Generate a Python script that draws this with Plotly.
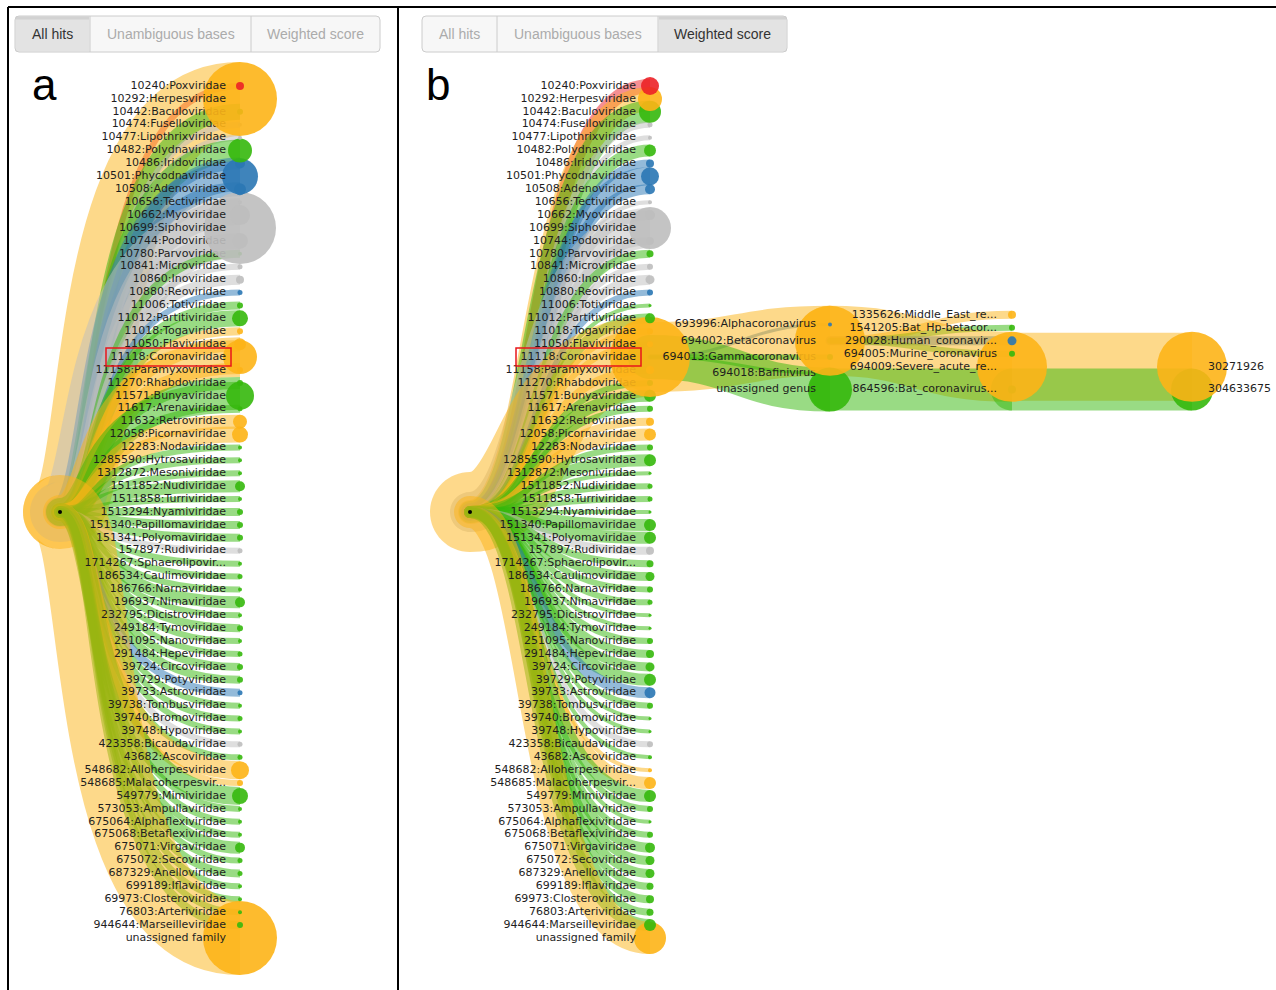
import numpy as np
import plotly.graph_objects as go

CANVAS_W, CANVAS_H = 1276, 990

# ---------------------------------------------------------------- data
COLORS = {
    "red": "#EC2127",
    "orange": "#FDB417",
    "green": "#35B80C",
    "blue": "#2A77B4",
    "gray": "#BEBEBE",
}

FAMILIES = [
    "10240:Poxviridae", "10292:Herpesviridae", "10442:Baculoviridae",
    "10474:Fuselloviridae", "10477:Lipothrixviridae", "10482:Polydnaviridae",
    "10486:Iridoviridae", "10501:Phycodnaviridae", "10508:Adenoviridae",
    "10656:Tectiviridae", "10662:Myoviridae", "10699:Siphoviridae",
    "10744:Podoviridae", "10780:Parvoviridae", "10841:Microviridae",
    "10860:Inoviridae", "10880:Reoviridae", "11006:Totiviridae",
    "11012:Partitiviridae", "11018:Togaviridae", "11050:Flaviviridae",
    "11118:Coronaviridae", "11158:Paramyxoviridae", "11270:Rhabdoviridae",
    "11571:Bunyaviridae", "11617:Arenaviridae", "11632:Retroviridae",
    "12058:Picornaviridae", "12283:Nodaviridae", "1285590:Hytrosaviridae",
    "1312872:Mesoniviridae", "1511852:Nudiviridae", "1511858:Turriviridae",
    "1513294:Nyamiviridae", "151340:Papillomaviridae", "151341:Polyomaviridae",
    "157897:Rudiviridae", "1714267:Sphaerolipovir...", "186534:Caulimoviridae",
    "186766:Narnaviridae", "196937:Nimaviridae", "232795:Dicistroviridae",
    "249184:Tymoviridae", "251095:Nanoviridae", "291484:Hepeviridae",
    "39724:Circoviridae", "39729:Potyviridae", "39733:Astroviridae",
    "39738:Tombusviridae", "39740:Bromoviridae", "39748:Hypoviridae",
    "423358:Bicaudaviridae", "43682:Ascoviridae", "548682:Alloherpesviridae",
    "548685:Malacoherpesvir...", "549779:Mimiviridae", "573053:Ampullaviridae",
    "675064:Alphaflexiviridae", "675068:Betaflexiviridae", "675071:Virgaviridae",
    "675072:Secoviridae", "687329:Anelloviridae", "699189:Iflaviridae",
    "69973:Closteroviridae", "76803:Arteriviridae", "944644:Marseilleviridae",
    "unassigned family",
]

FAMILY_GROUP = [
    "red", "orange", "green", "gray", "gray", "green", "blue", "blue", "blue",
    "gray", "gray", "gray", "gray", "green", "gray", "gray", "blue", "green",
    "green", "orange", "orange", "orange", "orange", "green", "green", "green",
    "orange", "orange", "green", "green", "green", "green", "green", "green",
    "green", "green", "gray", "green", "green", "green", "green", "green",
    "green", "green", "green", "green", "green", "blue", "green", "green",
    "green", "gray", "green", "orange", "orange", "green", "green", "green",
    "green", "green", "green", "green", "green", "green", "green", "green",
    "orange",
]

# "All hits" view: node radius and link width (px)
HITS_NODE_R = [
    4, 37, 3, 2, 2, 12, 5, 18, 6, 2, 10, 36, 8, 2, 2.5, 4, 2.5, 3, 8, 3, 6,
    17, 3, 3, 14, 2.5, 7, 8, 2, 2, 2, 5, 2, 3, 3, 3, 2.5, 2, 2.5, 2, 5, 2, 3,
    2, 2.5, 3, 3, 2.5, 2, 2.5, 2, 2.5, 2.5, 9, 3, 8, 2, 2, 2, 5, 2.5, 2.5, 2,
    2, 2, 3, 37,
]
HITS_LINK_W = [
    6, 74, 16, 6, 6, 22, 12, 30, 14, 6, 20, 60, 16, 8, 6, 10, 6, 8, 16, 8, 14,
    34, 14, 12, 28, 8, 14, 16, 6, 6, 6, 12, 6, 8, 8, 8, 6, 6, 6, 6, 12, 6, 8,
    6, 6, 8, 8, 8, 6, 6, 6, 6, 6, 18, 6, 18, 6, 6, 6, 12, 6, 8, 6, 6, 6, 8, 74,
]

# "Weighted score" view: node radius and link width (px)
SCORE_NODE_R = [
    9, 12, 11, 2.5, 2, 6, 4, 9, 5, 2, 5, 21, 4, 3.5, 3, 4.5, 3, 1.5, 5, 3, 3,
    40, 4, 3, 6, 3, 4, 6, 3, 6, 1.5, 2.5, 2.5, 1.5, 6, 6, 4, 3.5, 4.5, 3, 2.5,
    1.5, 1.5, 3, 4, 4.5, 6, 5.5, 3, 1.5, 1.5, 3, 2, 2, 6, 6, 3, 1.5, 3, 5, 4.5,
    4.5, 3.5, 4, 3.5, 6, 16,
]
SCORE_LINK_W = [
    14, 24, 22, 6, 5, 12, 8, 18, 10, 4, 10, 40, 8, 8, 6, 10, 6, 4, 10, 6, 6,
    80, 8, 6, 12, 6, 8, 12, 6, 12, 4, 6, 6, 4, 12, 12, 8, 7, 9, 6, 6, 4, 4, 6,
    8, 9, 12, 11, 6, 4, 4, 6, 4, 4, 12, 12, 6, 4, 6, 10, 9, 9, 7, 8, 7, 12, 32,
]

HIGHLIGHT = "11118:Coronaviridae"

# Coronaviridae expanded in the weighted-score view
GENERA = [
    "693996:Alphacoronavirus", "694002:Betacoronavirus",
    "694013:Gammacoronavirus", "694018:Bafinivirus", "unassigned genus",
]
GENUS_GROUP = ["blue", "orange", "green", "green", "green"]
GENUS_NODE_R = [2, 35, 3, 1.5, 22]
GENUS_LINK_W = [3, 70, 5, 3, 44]

SPECIES = [
    "1335626:Middle_East_re...", "1541205:Bat_Hp-betacor...",
    "290028:Human_coronavir...", "694005:Murine_coronavirus",
    "694009:Severe_acute_re...", "864596:Bat_coronavirus...",
]
SPECIES_PARENT = [1, 1, 1, 1, 1, 4]
SPECIES_GROUP = ["orange", "green", "blue", "green", "orange", "green"]
SPECIES_NODE_R = [4, 3, 4.5, 3, 35, 4]
SPECIES_LINK_W = [8, 6, 9, 6, 70, 42]

STRAINS = ["30271926", "304633675"]
STRAIN_PARENT = [4, 5]
STRAIN_GROUP = ["orange", "green"]
STRAIN_NODE_R = [35, 21]
STRAIN_LINK_W = [68, 42]

BUTTONS = ["All hits", "Unambiguous bases", "Weighted score"]
BUTTON_W = [75, 161, 129]

# ---------------------------------------------------------------- layout
ROW_TOP, ROW_BOTTOM = 86, 938
LABEL_GAP = 14
LINK_OPACITY = 0.5
NODE_OPACITY = 0.9
GENUS_X, SPECIES_X, STRAIN_X = 830, 1012, 1192
GENUS_STEP, SPECIES_STEP = 16.25, 13
LABEL_FONT = dict(family="DejaVu Sans", size=11, color="#1e1e1e")

PANELS = [
    dict(letter="a", letter_x=44, root_x=60, fam_x=240, btn_x=15, active=0,
         node_r=HITS_NODE_R, link_w=HITS_LINK_W, bend=(0.25, 0.08)),
    dict(letter="b", letter_x=438, root_x=470, fam_x=650, btn_x=422, active=2,
         node_r=SCORE_NODE_R, link_w=SCORE_LINK_W, bend=(0.4, 0.3)),
]

rows = np.linspace(ROW_TOP, ROW_BOTTOM, len(FAMILIES))
root_y = float(rows.mean())

shapes = []
annotations = []
traces = []


def link(x0, y0, x1, y1, width, color, bend=(0.5, 0.5)):
    """Curved ribbon from parent to child, with a rounded start."""
    c1 = x0 + bend[0] * (x1 - x0)
    c2 = x0 + bend[1] * (x1 - x0)
    shapes.append(dict(
        type="path", xref="x", yref="y", layer="below",
        path=f"M {x0:.2f},{y0:.2f} C {c1:.2f},{y0:.2f} {c2:.2f},{y1:.2f} {x1:.2f},{y1:.2f}",
        line=dict(color=color, width=width), fillcolor="rgba(0,0,0,0)",
        opacity=LINK_OPACITY))
    r = width / 2
    k = 0.5523 * r
    shapes.append(dict(
        type="path", xref="x", yref="y", layer="below",
        path=(f"M {x0:.2f},{y0 - r:.2f} C {x0 - k:.2f},{y0 - r:.2f} {x0 - r:.2f},{y0 - k:.2f} {x0 - r:.2f},{y0:.2f} "
              f"C {x0 - r:.2f},{y0 + k:.2f} {x0 - k:.2f},{y0 + r:.2f} {x0:.2f},{y0 + r:.2f} Z"),
        fillcolor=color, line=dict(width=0), opacity=LINK_OPACITY))


def circle_trace(x, y, r, group):
    return go.Scatter(
        x=[x], y=[y], mode="markers", hoverinfo="skip", showlegend=False,
        marker=dict(size=2 * r, color=COLORS[group], opacity=NODE_OPACITY,
                    line=dict(width=0)))


def text_trace(xs, ys, labels, side):
    return go.Scatter(
        x=list(xs), y=list(ys), text=list(labels), mode="text",
        textposition=side, hoverinfo="skip", showlegend=False, textfont=LABEL_FONT)


def draw_nodes(x, ys, radii, groups, labels, label_dx, side="middle left",
               labels_on_top=False):
    """Later rows are painted first; each circle is followed by its label
    unless all labels are lifted above the whole column."""
    for i in range(len(ys) - 1, -1, -1):
        traces.append(circle_trace(x, ys[i], radii[i], groups[i]))
        if not labels_on_top:
            traces.append(text_trace([x + label_dx], [ys[i]], [labels[i]], side))
    if labels_on_top:
        traces.append(text_trace([x + label_dx] * len(ys), ys, labels, side))


def rounded_rect(x0, y0, x1, y1, r):
    return (f"M {x0 + r},{y0} L {x1 - r},{y0} Q {x1},{y0} {x1},{y0 + r} "
            f"L {x1},{y1 - r} Q {x1},{y1} {x1 - r},{y1} L {x0 + r},{y1} "
            f"Q {x0},{y1} {x0},{y1 - r} L {x0},{y0 + r} Q {x0},{y0} {x0 + r},{y0} Z")


# frame
shapes += [
    dict(type="line", xref="x", yref="y", x0=8, x1=CANVAS_W, y0=7, y1=7,
         line=dict(color="black", width=2)),
    dict(type="line", xref="x", yref="y", x0=8, x1=8, y0=7, y1=CANVAS_H,
         line=dict(color="black", width=2)),
    dict(type="line", xref="x", yref="y", x0=398, x1=398, y0=7, y1=CANVAS_H,
         line=dict(color="black", width=2)),
]

for p in PANELS:
    # ---- button group
    bx0, by0, by1 = p["btn_x"], 16, 52
    edges = np.concatenate([[bx0], bx0 + np.cumsum(BUTTON_W)])
    shapes.append(dict(type="path", xref="x", yref="y", layer="below",
                       path=rounded_rect(bx0, by0, edges[-1], by1, 4),
                       fillcolor="#f7f7f7", line=dict(width=0)))
    a = p["active"]
    shapes.append(dict(type="rect", xref="x", yref="y", layer="below",
                       x0=edges[a] + 0.5, x1=edges[a + 1] - 0.5, y0=by0 + 0.5, y1=by1 - 0.5,
                       fillcolor="#e3e3e3", line=dict(width=0)))
    shapes.append(dict(type="line", xref="x", yref="y", layer="below",
                       x0=edges[a] + 1, x1=edges[a + 1] - 1, y0=by0 + 2, y1=by0 + 2,
                       line=dict(color="#d2d2d2", width=3)))
    shapes.append(dict(type="path", xref="x", yref="y", layer="below",
                       path=rounded_rect(bx0, by0, edges[-1], by1, 4),
                       fillcolor="rgba(0,0,0,0)", line=dict(color="#cccccc", width=1)))
    for e in edges[1:-1]:
        shapes.append(dict(type="line", xref="x", yref="y", layer="below",
                           x0=e, x1=e, y0=by0, y1=by1, line=dict(color="#cccccc", width=1)))
    for i, name in enumerate(BUTTONS):
        annotations.append(dict(
            x=(edges[i] + edges[i + 1]) / 2, y=(by0 + by1) / 2, xref="x", yref="y",
            text=name, showarrow=False, xanchor="center", yanchor="middle",
            font=dict(family="Liberation Sans, Arial", size=14,
                      color="#333333" if i == a else "#ababab")))

    annotations.append(dict(
        x=p["letter_x"], y=84, xref="x", yref="y", text=p["letter"], showarrow=False,
        xanchor="center", yanchor="middle",
        font=dict(family="Liberation Sans, Arial", size=44, color="black")))

    # ---- root -> family ribbons
    rx, fx = p["root_x"], p["fam_x"]
    for i in range(len(FAMILIES)):
        link(rx, root_y, fx, rows[i], p["link_w"][i], COLORS[FAMILY_GROUP[i]], p["bend"])

    draw_nodes(fx, list(rows), p["node_r"], FAMILY_GROUP, FAMILIES, -LABEL_GAP)
    traces.append(go.Scatter(x=[rx], y=[root_y], mode="markers", hoverinfo="skip",
                             showlegend=False, marker=dict(size=4, color="black")))

    hy = rows[FAMILIES.index(HIGHLIGHT)]
    shapes.append(dict(type="rect", xref="x", yref="y", layer="above",
                       x0=fx - 134, x1=fx - 9, y0=hy - 9, y1=hy + 9,
                       line=dict(color="#e8161b", width=1.5), fillcolor="rgba(0,0,0,0)"))

# ---- Coronaviridae subtree (weighted score view)
corona_x = PANELS[1]["fam_x"]
corona_y = rows[FAMILIES.index(HIGHLIGHT)]


def spread(center, n, step):
    return [center + (i - (n - 1) / 2) * step for i in range(n)]


genus_y = spread(corona_y, len(GENERA), GENUS_STEP)

placed = []
for g in range(len(GENERA)):
    kids = [s for s, par in enumerate(SPECIES_PARENT) if par == g]
    placed += list(zip(kids, spread(genus_y[g], len(kids), SPECIES_STEP)))
species_y = [y for _, y in sorted(placed)]
strain_y = [species_y[par] for par in STRAIN_PARENT]

for g in range(len(GENERA)):
    link(corona_x, corona_y, GENUS_X, genus_y[g], GENUS_LINK_W[g], COLORS[GENUS_GROUP[g]])
for s in range(len(SPECIES)):
    link(GENUS_X, genus_y[SPECIES_PARENT[s]], SPECIES_X, species_y[s],
         SPECIES_LINK_W[s], COLORS[SPECIES_GROUP[s]])
for t in range(len(STRAINS)):
    link(SPECIES_X, species_y[STRAIN_PARENT[t]], STRAIN_X, strain_y[t],
         STRAIN_LINK_W[t], COLORS[STRAIN_GROUP[t]])

draw_nodes(GENUS_X, genus_y, GENUS_NODE_R, GENUS_GROUP, GENERA, -LABEL_GAP)
draw_nodes(SPECIES_X, species_y, SPECIES_NODE_R, SPECIES_GROUP, SPECIES, -15,
           labels_on_top=True)
draw_nodes(STRAIN_X, strain_y, STRAIN_NODE_R, STRAIN_GROUP, STRAINS, 16,
           side="middle right", labels_on_top=True)

fig = go.Figure(traces)
fig.update_layout(
    width=CANVAS_W, height=CANVAS_H, margin=dict(l=0, r=0, t=0, b=0),
    paper_bgcolor="white", plot_bgcolor="white", showlegend=False,
    shapes=shapes, annotations=annotations, hovermode=False,
    xaxis=dict(range=[0, CANVAS_W], visible=False, fixedrange=True),
    yaxis=dict(range=[CANVAS_H, 0], visible=False, fixedrange=True),
)
fig.write_html("out.html", config=dict(displayModeBar=False, staticPlot=True),
               post_script="document.body.style.margin='0';")
